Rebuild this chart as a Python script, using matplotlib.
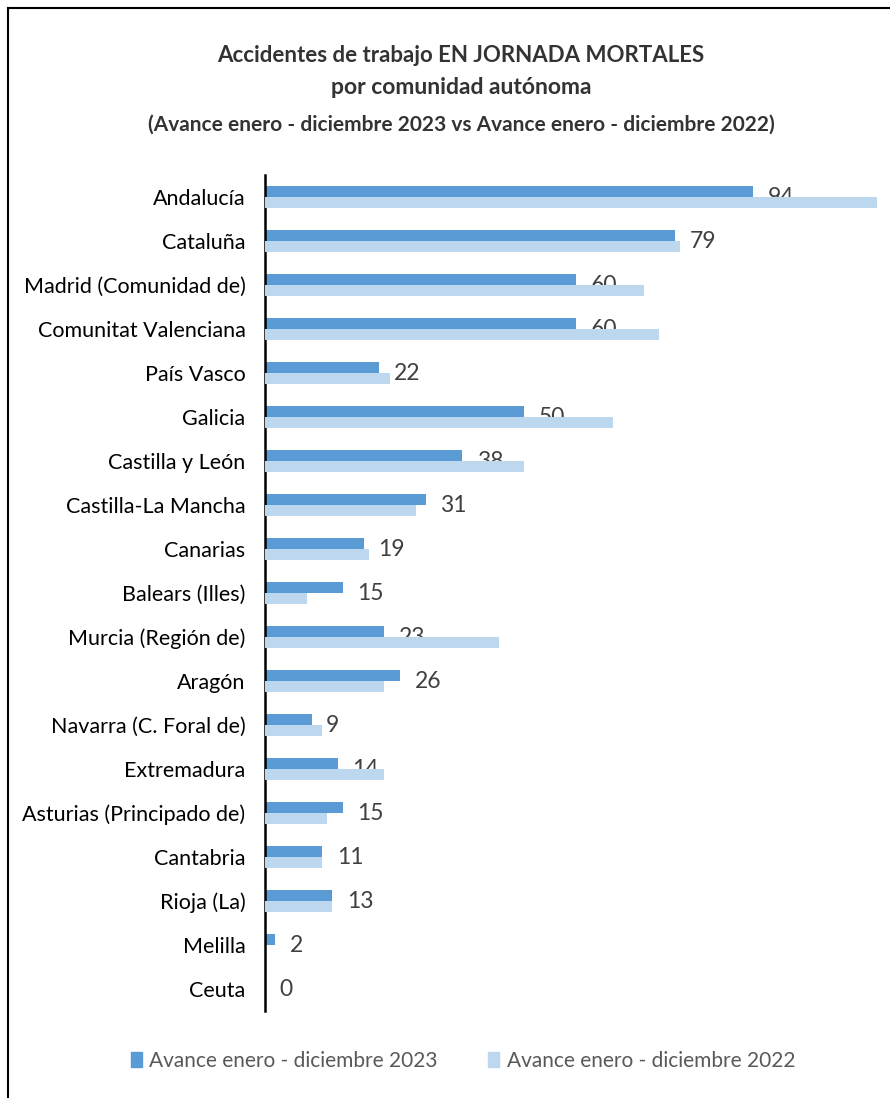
import matplotlib.pyplot as plt
from matplotlib.lines import Line2D
from matplotlib.patches import Patch

regiones = ["Andalucía", "Cataluña", "Madrid (Comunidad de)", "Comunitat Valenciana",
            "País Vasco", "Galicia", "Castilla y León", "Castilla-La Mancha", "Canarias",
            "Balears (Illes)", "Murcia (Región de)", "Aragón", "Navarra (C. Foral de)",
            "Extremadura", "Asturias (Principado de)", "Cantabria", "Rioja (La)",
            "Melilla", "Ceuta"]
valores_2023 = [94, 79, 60, 60, 22, 50, 38, 31, 19, 15, 23, 26, 9, 14, 15, 11, 13, 2, 0]
valores_2022 = [118, 80, 73, 76, 24, 67, 50, 29, 20, 8, 45, 23, 11, 23, 12, 11, 13, 0, 0]
serie_2023 = "Avance enero - diciembre 2023"
serie_2022 = "Avance enero - diciembre 2022"

color_2023 = "#5B9BD5"
color_2022 = "#BDD7EE"
plt.rcParams['font.family'] = ["Lato", "DejaVu Sans"]

fig = plt.figure(figsize=(8.9, 10.98), dpi=100)
ax = fig.add_axes([265 / 890, 1 - 1011 / 1098, (880 - 265) / 890, (1011 - 175) / 1098])

pos = list(range(len(regiones)))
alto = 0.25
ax.barh([p - alto / 2 for p in pos], valores_2023, height=alto, color=color_2023, zorder=2)
ax.barh([p + alto / 2 for p in pos], valores_2022, height=alto, color=color_2022, zorder=4)

# etiquetas de la serie 2023 (quedan debajo de las barras de 2022, como en el original)
for p, v in zip(pos, valores_2023):
    ax.text(v + 2.8, p, str(v), va='center', ha='left', fontsize=16.5,
            color="#404040", zorder=3)

ax.set_yticks(pos)
ax.set_yticklabels(regiones, fontsize=15.5, color='black')
ax.tick_params(axis='y', length=0, pad=14)
ax.set_ylim(len(regiones) - 0.5, -0.5)
ax.set_xlim(0, 118.5)
ax.set_xticks([])
for lado in ['top', 'right', 'bottom']:
    ax.spines[lado].set_visible(False)
ax.spines['left'].set_linewidth(1.8)

fig.text(0.518, 1 - 55 / 1098, "Accidentes de trabajo EN JORNADA MORTALES",
         ha='center', va='center', fontsize=16, fontweight='bold', color="#333333")
fig.text(0.518, 1 - 88 / 1098, "por comunidad autónoma",
         ha='center', va='center', fontsize=16.5, fontweight='bold', color="#333333")
fig.text(0.518, 1 - 125 / 1098,
         "(Avance enero - diciembre 2023 vs Avance enero - diciembre 2022)",
         ha='center', va='center', fontsize=15, fontweight='bold', color="#333333")

handles = [Patch(color=color_2023, label=serie_2023), Patch(color=color_2022, label=serie_2022)]
fig.legend(handles=handles, loc='center', bbox_to_anchor=(0.52, 1 - 1061 / 1098), ncol=2,
           frameon=False, fontsize=15, labelcolor="#595959", handlelength=0.55,
           handleheight=0.75, handletextpad=0.35, columnspacing=2.4)

# borde del gráfico (solo se ven el izquierdo y el superior)
fig.add_artist(Line2D([8 / 890, 8 / 890], [0, 1 - 8 / 1098], color='black', lw=1.5))
fig.add_artist(Line2D([8 / 890, 1], [1 - 8 / 1098, 1 - 8 / 1098], color='black', lw=1.5))

fig.savefig("out.png", dpi=100, facecolor='white')
